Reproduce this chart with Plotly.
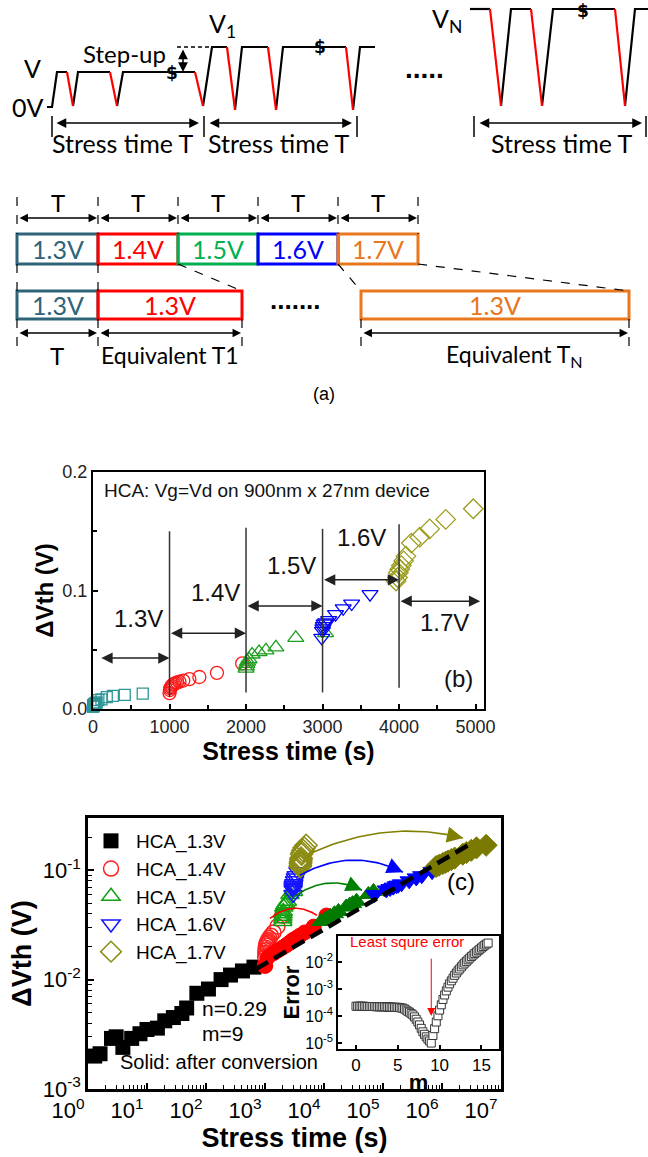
import numpy as np
import plotly.graph_objects as go

FW, FH = 648, 1157
ARIAL = "Arial, 'Liberation Sans', sans-serif"
LATO = "Lato, 'Open Sans', sans-serif"


def px(x):
    return x / FW


def py(y):
    return 1 - y / FH


# ======================= DATA =======================
# ---- panel (b)/(c): raw step-stress data (stress time [s], dVth [V]) ----
t_13 = [1.3, 1.6, 2.5, 3.0, 3.9, 5.5, 7.6, 10, 15, 20, 28, 39, 47, 70, 110, 180, 260, 415, 650]
dv_13 = [0.0020, 0.0021, 0.0029, 0.0030, 0.0024, 0.0029, 0.0032, 0.0035, 0.0036, 0.0042,
         0.0045, 0.0049, 0.0055, 0.0075, 0.0082, 0.0100, 0.0110, 0.0120, 0.0130]

t_14 = [1000, 1005, 1010, 1020, 1030, 1045, 1060, 1080, 1100, 1130, 1180, 1260, 1390, 1620, 1950]
dv_14 = [0.0134, 0.0160, 0.0175, 0.0185, 0.0195, 0.0205, 0.0212, 0.0218, 0.0224, 0.0230,
         0.0240, 0.0252, 0.0270, 0.0305, 0.0385]

t_15 = [2000, 2005, 2010, 2020, 2040, 2080, 2170, 2260, 2390, 2650, 3040]
dv_15 = [0.034, 0.036, 0.038, 0.040, 0.042, 0.046, 0.048, 0.0495, 0.052, 0.060, 0.064]

t_16 = [2990, 3000, 3005, 3010, 3020, 3040, 3080, 3170, 3270, 3380, 3620]
dv_16 = [0.060, 0.066, 0.068, 0.070, 0.072, 0.073, 0.075, 0.080, 0.085, 0.089, 0.097]

t_17 = [3960, 3980, 3990, 4010, 4030, 4060, 4090, 4160, 4270, 4400, 4610, 4970]
dv_17 = [0.108, 0.111, 0.115, 0.118, 0.121, 0.125, 0.129, 0.140, 0.145, 0.152, 0.160, 0.169]

# ---- panel (c): equivalent 1.3V stress time after conversion ----
t_14c = [1000, 1120, 1420, 1650, 1950, 2250, 2450, 2650, 2850, 2960, 3400, 3900, 4700, 6700, 11000]
t_15c = [8900, 10800, 12800, 15000, 17600, 23700, 27300, 30500, 35600, 56500, 69000]
t_16c = [72000, 114000, 132000, 149000, 169000, 181000, 206000, 278000, 366000, 454000, 680000]
t_17c = [794000, 891000, 1.03e6, 1.14e6, 1.26e6, 1.44e6, 1.64e6, 2.25e6, 2.59e6, 3.13e6, 3.84e6, 5.6e6]

# power-law fit (n = 0.29, m = 9)
t_fit = [700, 3.4e6]
dv_fit = [0.0125, 0.18]

# ---- inset: least-square error vs m ----
m_vals = [0.0, 0.2, 0.4, 0.6, 0.8, 1.0, 1.2, 1.4, 1.6, 1.8, 2.0, 2.2, 2.4, 2.6, 2.8, 3.0, 3.2, 3.4,
          3.6, 3.8, 4.0, 4.2, 4.4, 4.6, 4.8, 5.0, 5.2, 5.4, 5.6, 5.8, 6.0, 6.2, 6.4, 6.6, 6.8, 7.0,
          7.2, 7.4, 7.6, 7.8, 8.0, 8.2, 8.4, 8.6, 8.8, 9.0, 9.2, 9.4, 9.6, 9.8, 10.0, 10.2, 10.4,
          10.6, 10.8, 11.0, 11.2, 11.4, 11.6, 11.8, 12.0, 12.2, 12.4, 12.6, 12.8, 13.0, 13.2, 13.4,
          13.6, 13.8, 14.0, 14.2, 14.4, 14.6, 14.8, 15.0, 15.2, 15.4, 15.6, 15.8]
err_vals = [2.3e-4, 2.3e-4, 2.3e-4, 2.3e-4, 2.3e-4, 2.3e-4,
            2.25e-4, 2.25e-4, 2.25e-4, 2.25e-4, 2.25e-4, 2.25e-4,
            2.2e-4, 2.2e-4, 2.2e-4, 2.2e-4, 2.2e-4, 2.2e-4,
            2.15e-4, 2.15e-4, 2.15e-4, 2.15e-4,
            2.1e-4, 2.1e-4, 2.1e-4, 2.1e-4,
            2.04e-4, 2.0e-4, 1.95e-4, 1.82e-4, 1.66e-4, 1.5e-4, 1.38e-4, 1.23e-4, 1.1e-4,
            9.3e-5, 7.6e-5, 6.0e-5, 4.7e-5, 3.5e-5, 2.6e-5, 2.1e-5, 1.7e-5, 1.4e-5, 1.2e-5, 1.0e-5,
            1.9e-5, 3.4e-5, 6.0e-5, 1.02e-4, 1.66e-4, 2.6e-4, 4.1e-4, 6.0e-4, 8.5e-4, 1.17e-3,
            1.55e-3, 2.0e-3, 2.5e-3, 3.2e-3, 3.9e-3, 4.7e-3, 5.5e-3, 6.6e-3, 7.8e-3, 9.1e-3,
            1.05e-2, 1.2e-2, 1.38e-2, 1.58e-2, 1.8e-2, 2.04e-2, 2.3e-2, 2.6e-2, 2.95e-2, 3.3e-2,
            3.7e-2, 4.2e-2, 4.6e-2, 5.0e-2]

legend_names = ["HCA_1.3V", "HCA_1.4V", "HCA_1.5V", "HCA_1.6V", "HCA_1.7V"]

# ---- panel (b) annotations (data units) ----
vline_t = [1000, 2000, 3000, 4000]
vline_lo = [0.010, 0.014, 0.014, 0.018]
vline_hi = [0.150, 0.153, 0.152, 0.156]
span_t0 = [90, 1000, 2000, 3000, 4000]
span_t1 = [1000, 2000, 3000, 4000, 5060]
span_dv = [0.043, 0.064, 0.087, 0.109, 0.091]
span_lbl = ["1.3V", "1.4V", "1.5V", "1.6V", "1.7V"]
span_lbl_t = [601, 1595, 2600, 3506, 4600]
span_lbl_dv = [0.0765, 0.098, 0.121, 0.145, 0.073]

# ---- panel (c) curved arrows (data units) ----
arc_t0 = [1216, 2985, 3920, 6510]
arc_v0 = [0.0363, 0.0565, 0.090, 0.146]
arc_t1 = [7590, 44000, 218000, 2.27e6]
arc_v1 = [0.0386, 0.0656, 0.096, 0.197]
arc_vpk = [0.0448, 0.076, 0.1236, 0.223]

# ---- panel (a) schematic, in pixel units of a hidden overlay axis ----
w1_black_x = [47, 52, 57, 67, None, 73, 78, 110, None, 117, 123, 195, None, 203, 212, 227, None,
              235, 242, 268, None, 276, 283, 346, None, 353, 360, 375]
w1_black_y = [107, 107, 72, 72, None, 106, 72, 72, None, 106, 72, 72, None, 106, 47, 47, None,
              110, 47, 47, None, 110, 47, 47, None, 110, 47, 47]
w1_red_x = [67, 73, None, 110, 117, None, 195, 203, None, 227, 235, None, 268, 276, None, 346, 353]
w1_red_y = [72, 106, None, 72, 106, None, 72, 106, None, 47, 110, None, 47, 110, None, 47, 110]
wN_black_x = [470, 490, None, 501, 511, 531, None, 542, 553, 615, None, 625, 635, 648]
wN_black_y = [9, 9, None, 106, 9, 9, None, 106, 9, 9, None, 106, 9, 9]
wN_red_x = [490, 501, None, 531, 542, None, 615, 625]
wN_red_y = [9, 106, None, 9, 106, None, 9, 106]

top_edges = [17, 98, 178, 258, 338, 418]
top_labels = ["1.3V", "1.4V", "1.5V", "1.6V", "1.7V"]
box_colors = ["#2E6478", "#FF0000", "#00B050", "#0000FF", "#E8771E"]
bot_x0 = [17, 98, 361]
bot_x1 = [98, 242, 629]
bot_colors = ["#2E6478", "#FF0000", "#E8771E"]

# ======================= FIGURE =======================
fig = go.Figure()
NOHOV = dict(hoverinfo="skip", showlegend=False)

# ---- panel (a) waveforms ----
for xs, ys, c in [(w1_black_x, w1_black_y, "black"), (w1_red_x, w1_red_y, "#FF0000"),
                  (wN_black_x, wN_black_y, "black"), (wN_red_x, wN_red_y, "#FF0000")]:
    fig.add_trace(go.Scatter(x=xs, y=ys, xaxis="x4", yaxis="y4", mode="lines",
                             line=dict(color=c, width=2.2), **NOHOV))

# ---- panel (b) ----
b_style = [("square-open", "#2E9696", 11), ("circle-open", "#FF1A1A", 13),
           ("triangle-up-open", "#1F9E1F", 14), ("triangle-down-open", "#0000FF", 14),
           ("diamond-open", "#9C9C1C", 15)]
b_data = [(t_13, dv_13), (t_14, dv_14), (t_15, dv_15), (t_16, dv_16), (t_17, dv_17)]
for (tt, vv), (sym, col, sz) in zip(b_data, b_style):
    fig.add_trace(go.Scatter(x=tt, y=vv, xaxis="x", yaxis="y", mode="markers", cliponaxis=False,
                             marker=dict(symbol=sym, size=sz, color=col, line=dict(width=1.3, color=col)),
                             **NOHOV))

# ---- panel (c) ----
fig.add_trace(go.Scatter(x=t_13, y=dv_13, xaxis="x2", yaxis="y2", mode="markers", name=legend_names[0],
                         marker=dict(symbol="square", size=15, color="black"), hoverinfo="skip"))
c_open = [("circle-open", "#FF2020", 15), ("triangle-up-open", "#11A011", 16),
          ("triangle-down-open", "#1515FF", 16), ("diamond-open", "#8C8C14", 17)]
c_fill = [("circle", "#FF0000", 15), ("triangle-up", "#007A00", 16),
          ("triangle-down", "#0000FF", 16), ("diamond", "#7A7A00", 17)]
raw = [(t_14, dv_14), (t_15, dv_15), (t_16, dv_16), (t_17, dv_17)]
conv = [(t_14c, dv_14), (t_15c, dv_15), (t_16c, dv_16), (t_17c, dv_17)]
for (tt, vv), (sym, col, sz), nm in zip(raw, c_open, legend_names[1:]):
    fig.add_trace(go.Scatter(x=tt, y=vv, xaxis="x2", yaxis="y2", mode="markers", name=nm,
                             marker=dict(symbol=sym, size=sz, color=col, line=dict(width=1.5, color=col)),
                             hoverinfo="skip"))
for (tt, vv), (sym, col, sz) in zip(conv, c_fill):
    fig.add_trace(go.Scatter(x=tt, y=vv, xaxis="x2", yaxis="y2", mode="markers",
                             marker=dict(symbol=sym, size=sz, color=col, line=dict(width=1, color=col)),
                             **NOHOV))
fig.add_trace(go.Scatter(x=t_fit, y=dv_fit, xaxis="x2", yaxis="y2", mode="lines",
                         line=dict(color="black", width=4.5, dash="14px,7px"), **NOHOV))

annotations = []
arc_colors = ["#FF0000", "#008000", "#0000FF", "#808000"]
s = np.linspace(0, 1, 40)
for t0, v0, t1, v1, vp, col in zip(arc_t0, arc_v0, arc_t1, arc_v1, arc_vpk, arc_colors):
    x0, y0, x2, y2 = np.log10(t0), np.log10(v0), np.log10(t1), np.log10(v1)
    x1 = (x0 + x2) / 2
    y1 = 2 * np.log10(vp) - 0.5 * (y0 + y2)
    bx = (1 - s) ** 2 * x0 + 2 * (1 - s) * s * x1 + s ** 2 * x2
    by = (1 - s) ** 2 * y0 + 2 * (1 - s) * s * y1 + s ** 2 * y2
    fig.add_trace(go.Scatter(x=10 ** bx, y=10 ** by, xaxis="x2", yaxis="y2", mode="lines",
                             line=dict(color=col, width=1.6), **NOHOV))
    annotations.append(dict(x=x2, y=y2, ax=bx[-5], ay=by[-5], xref="x2", yref="y2", axref="x2",
                            ayref="y2", text="", showarrow=True, arrowhead=2, arrowsize=2.0,
                            arrowwidth=1.6, arrowcolor=col))

# ---- inset ----
fig.add_trace(go.Scatter(x=m_vals, y=err_vals, xaxis="x3", yaxis="y3", mode="markers",
                         marker=dict(symbol="square", size=8, color="white", line=dict(width=1, color="#333")),
                         **NOHOV))
annotations.append(dict(x=9.0, y=np.log10(1.0e-4), ax=9.0, ay=np.log10(1.5e-2), xref="x3", yref="y3",
                        axref="x3", ayref="y3", text="", showarrow=True, arrowhead=2, arrowsize=1.6,
                        arrowwidth=1, arrowcolor="#FF0000"))
annotations.append(dict(x=px(407), y=py(952), xref="paper", yref="paper", text="Least squre error",
                        showarrow=False, font=dict(family=ARIAL, size=15, color="#FF0000")))

# ---- panel (b) shapes / labels ----
shapes = []
for tv, lo, hi in zip(vline_t, vline_lo, vline_hi):
    shapes.append(dict(type="line", xref="x", yref="y", x0=tv, x1=tv, y0=lo, y1=hi,
                       line=dict(color="#333", width=1.5)))
for a0, a1, yv in zip(span_t0, span_t1, span_dv):
    annotations.append(dict(x=a1, y=yv, ax=a0, ay=yv, xref="x", yref="y", axref="x", ayref="y",
                            text="", showarrow=True, arrowhead=2, arrowside="end+start", arrowsize=1.5,
                            arrowwidth=1.5, arrowcolor="#222"))
for lbl, lx, ly in zip(span_lbl, span_lbl_t, span_lbl_dv):
    annotations.append(dict(x=lx, y=ly, xref="x", yref="y", text=lbl, showarrow=False,
                            font=dict(family=ARIAL, size=24, color="#111")))
annotations.append(dict(x=118, y=0.184, xref="x", yref="y", text="HCA: Vg=Vd on 900nm x 27nm device",
                        showarrow=False, xanchor="left", font=dict(family=ARIAL, size=19, color="#111")))
annotations.append(dict(x=4771, y=0.026, xref="x", yref="y", text="(b)", showarrow=False,
                        font=dict(family=ARIAL, size=24, color="#111")))

# ---- panel (c) labels ----
annotations.append(dict(x=px(200), y=py(1022), xref="paper", yref="paper", text="n=0.29", xanchor="left",
                        showarrow=False, font=dict(family=ARIAL, size=21, color="black")))
annotations.append(dict(x=px(200), y=py(1047), xref="paper", yref="paper", text="m=9", xanchor="left",
                        showarrow=False, font=dict(family=ARIAL, size=21, color="black")))
annotations.append(dict(x=px(118), y=py(1075), xref="paper", yref="paper", text="Solid: after conversion",
                        xanchor="left", showarrow=False, font=dict(family=ARIAL, size=20, color="black")))
annotations.append(dict(x=px(477), y=py(897), xref="paper", yref="paper", text="(c)", showarrow=False,
                        font=dict(family=ARIAL, size=24, color="black")))

# ---- panel (a) shapes / labels (pixel units on x4/y4) ----
A = dict(xref="x4", yref="y4")


def txt(x, y, t, size=25, color="black", family=LATO):
    annotations.append(dict(x=x, y=y, text=t, showarrow=False, font=dict(family=family, size=size, color=color), **A))


def darrow(x0, y0, x1, y1, w=1.5):
    annotations.append(dict(x=x1, y=y1, ax=x0, ay=y0, axref="x4", ayref="y4", text="", showarrow=True,
                            arrowhead=2, arrowside="end+start", arrowsize=1.3, arrowwidth=w,
                            arrowcolor="black", **A))


def dline(x0, y0, x1, y1, dash="dash", w=1.2):
    shapes.append(dict(type="line", x0=x0, y0=y0, x1=x1, y1=y1, line=dict(color="black", width=w, dash=dash), **A))


txt(32, 68, "V")
txt(28, 107, "0V")
txt(222, 25, "V<sub>1</sub>")
txt(447, 20, "V<sub>N</sub>")
txt(124, 53, "Step-up", size=24)
for sx, sy in [(172, 73), (320, 47), (583, 11)]:
    txt(sx, sy, "<b>$</b>", size=17, color="#000000", family="DejaVu Sans")
dline(177, 47, 211, 47, dash="4px,3px", w=1.5)
darrow(183, 48, 183, 72)
txt(424, 68, "<b>.....</b>", size=28, family=ARIAL)
for bx_ in [52, 204, 357, 474, 646]:
    dline(bx_, 116, bx_, 137, dash="solid", w=1.5)
darrow(55, 123, 199, 123)
darrow(208, 123, 352, 123)
darrow(478, 123, 642, 123)
txt(123, 143, "Stress time T")
txt(279, 143, "Stress time T")
txt(562, 143, "Stress time T")

for i in range(5):
    xa, xb = top_edges[i], top_edges[i + 1]
    shapes.append(dict(type="rect", x0=xa, x1=xb, y0=234, y1=264, line=dict(color=box_colors[i], width=3), **A))
    txt((xa + xb) / 2, 249, top_labels[i], color=box_colors[i])
    txt((xa + xb) / 2, 202, "T", size=24)
    darrow(xa + 1, 218, xb - 1, 218, w=1.3)
for xe in top_edges:
    dline(xe, 197, xe, 234)
for i in range(3):
    shapes.append(dict(type="rect", x0=bot_x0[i], x1=bot_x1[i], y0=291, y1=319,
                       line=dict(color=bot_colors[i], width=3), **A))
    txt((bot_x0[i] + bot_x1[i]) / 2, 305, "1.3V", color=bot_colors[i])
    darrow(bot_x0[i] + 1, 333, bot_x1[i] - 1, 333, w=1.3)
for xe in [17, 98]:
    dline(xe, 264, xe, 291)
for xe in [17, 98, 242, 361, 629]:
    dline(xe, 319, xe, 347)
dline(178, 264, 242, 291)
dline(338, 264, 361, 291)
dline(418, 264, 629, 291)
txt(295, 300, "<b>.......</b>", size=26, family=ARIAL)
txt(57, 355, "T", size=24)
txt(170, 355, "Equivalent T1", size=23)
txt(514, 355, "Equivalent T<sub>N</sub>", size=23)
txt(324, 394, "(a)", size=18, family=ARIAL)

# ======================= AXES =======================
def ax_common(lw):
    return dict(showline=True, linewidth=lw, linecolor="black", mirror=True, showgrid=False,
                zeroline=False, ticks="inside", tickcolor="black", tickwidth=1.5, automargin=False)


dec_x = [1, 10, 100, 1e3, 1e4, 1e5, 1e6, 1e7]
dec_x_txt = ["10<sup>%d</sup>" % k for k in range(8)]
minor_x = [k * 10 ** e for e in range(7) for k in range(2, 10)]
dec_y = [1e-3, 1e-2, 1e-1]
dec_y_txt = ["10<sup>-3</sup>", "10<sup>-2</sup>", "10<sup>-1</sup>"]
minor_y = [k * 10 ** e for e in (-3, -2, -1) for k in range(2, 10) if k * 10 ** e <= 0.3]
ins_y = [1e-5, 1e-4, 1e-3, 1e-2]
ins_y_txt = ["10<sup>-5</sup>", "10<sup>-4</sup>", "10<sup>-3</sup>", "10<sup>-2</sup>"]

fig.update_layout(
    width=FW, height=FH, margin=dict(l=0, r=0, t=0, b=0, pad=0, autoexpand=False),
    paper_bgcolor="white", plot_bgcolor="rgba(0,0,0,0)", hovermode=False,
    showlegend=True,
    legend=dict(x=px(86), y=py(822), xanchor="left", yanchor="top", bgcolor="rgba(0,0,0,0)",
                font=dict(family=ARIAL, size=19, color="black"), itemsizing="trace",
                itemwidth=40, tracegroupgap=0),
    xaxis=dict(domain=[px(93), px(484)], range=[0, 5110], anchor="y",
               tickmode="array", tickvals=[0, 1000, 2000, 3000, 4000, 5000], ticklen=5,
               minor=dict(tickmode="array", tickvals=[500, 1500, 2500, 3500, 4500], ticks="inside",
                          ticklen=4, tickcolor="black", tickwidth=1.5, showgrid=False),
               tickfont=dict(family=ARIAL, size=18, color="#222"),
               title=dict(text="<b>Stress time (s)</b>", font=dict(family=ARIAL, size=25, color="black"),
                          standoff=4),
               **ax_common(2)),
    yaxis=dict(domain=[py(709), py(472)], range=[0, 0.2], anchor="x",
               tickmode="array", tickvals=[0, 0.1, 0.2], tickformat=".1f", ticklen=5,
               minor=dict(tickmode="array", tickvals=[0.05, 0.15], ticks="inside", ticklen=4,
                          tickcolor="black", tickwidth=1.5, showgrid=False),
               tickfont=dict(family=ARIAL, size=18, color="#222"),
               title=dict(text="<b>ΔVth (V)</b>", font=dict(family=ARIAL, size=24, color="black"),
                          standoff=2),
               **ax_common(2)),
    xaxis2=dict(type="log", domain=[px(88), px(501)], range=[0, 7], anchor="y2",
                tickmode="array", tickvals=dec_x, ticktext=dec_x_txt, ticklen=6, ticklabelshift=-20,
                minor=dict(tickmode="array", tickvals=minor_x, ticks="inside", ticklen=4,
                           tickcolor="black", tickwidth=1.2, showgrid=False),
                tickfont=dict(family=ARIAL, size=22, color="black"),
                title=dict(text="<b>Stress time (s)</b>", font=dict(family=ARIAL, size=27, color="black"),
                           standoff=2),
                **ax_common(2.5)),
    yaxis2=dict(type="log", domain=[py(1089), py(818)], range=[-3, np.log10(0.3)], anchor="x2",
                tickmode="array", tickvals=dec_y, ticktext=dec_y_txt, ticklen=6,
                minor=dict(tickmode="array", tickvals=minor_y, ticks="inside", ticklen=4,
                           tickcolor="black", tickwidth=1.2, showgrid=False),
                tickfont=dict(family=ARIAL, size=22, color="black"),
                title=dict(text="<b>ΔVth (V)</b>", font=dict(family=ARIAL, size=27, color="black"),
                           standoff=4),
                **ax_common(2.5)),
    xaxis3=dict(domain=[px(338), px(499)], range=[-2.15, 17.1], anchor="y3",
                tickmode="array", tickvals=[0, 5, 10, 15], ticklen=4,
                tickfont=dict(family=ARIAL, size=17, color="black"),
                title=dict(text="<b>m</b>", font=dict(family=ARIAL, size=22, color="black"), standoff=0),
                **ax_common(1.5)),
    yaxis3=dict(type="log", domain=[py(1049), py(936)], range=[-5.22, -1.04], anchor="x3",
                tickmode="array", tickvals=ins_y, ticktext=ins_y_txt, ticklen=4,
                tickfont=dict(family=ARIAL, size=16, color="black"),
                title=dict(text="<b>Error</b>", font=dict(family=ARIAL, size=22, color="black"), standoff=0),
                **ax_common(1.5)),
    xaxis4=dict(domain=[0, 1], range=[0, FW], anchor="y4", visible=False, fixedrange=True),
    yaxis4=dict(domain=[0, 1], range=[FH, 0], anchor="x4", visible=False, fixedrange=True),
    shapes=shapes,
    annotations=annotations,
)

fig.write_html("out.html")
